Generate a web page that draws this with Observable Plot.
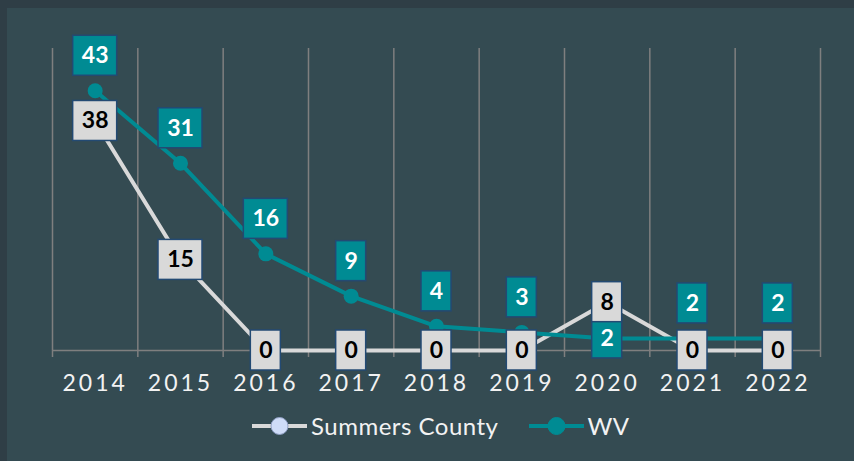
<!DOCTYPE html>
<html><head><meta charset="utf-8">
<script src="https://cdn.jsdelivr.net/npm/d3@7"></script>
<script src="https://cdn.jsdelivr.net/npm/@observablehq/plot@0.6"></script>
<style>
html,body{margin:0;padding:0;background:#2f3e46;width:854px;height:461px;overflow:hidden;}
#panel{position:absolute;left:7px;top:8px;width:847px;height:453px;background:#344b52;font-family:Lato,"Open Sans",sans-serif;}
#chart{position:absolute;left:0;top:0;}
#legend{position:absolute;left:245px;top:403px;display:flex;align-items:center;color:#f2f2f2;font-size:24px;letter-spacing:0.5px;font-family:Lato,"Open Sans",sans-serif;}
.item{display:flex;align-items:center;margin-right:30px;}
.item svg{margin-right:4px;}
</style></head>
<body>
<div id="panel"><div id="chart"></div><div id="legend"></div></div>
<script>
const years = [2014, 2015, 2016, 2017, 2018, 2019, 2020, 2021, 2022];
const summersValues = [38, 15, 0, 0, 0, 0, 8, 0, 0];
const wvValues = [43, 31, 16, 9, 4, 3, 2, 2, 2];
const seriesNames = ["Summers County", "WV"];

const W = 847, H = 400, mL = 45, mR = 34, mT = 40, mB = 58;
const yMax = 50;
const xDomain = [years[0] - 0.5, years[years.length - 1] + 0.5];
const xPerPx = (xDomain[1] - xDomain[0]) / (W - mL - mR);
const yPerPx = yMax / (H - mT - mB);

const teal = "#008b93", light = "#d9d9d9", border = "#234a73";
const summers = years.map((year, i) => ({year, value: summersValues[i], series: seriesNames[0]}));
const wv = years.map((year, i) => ({year, value: wvValues[i], series: seriesNames[1]}));
const wvCentered = [2020];
const gridXs = years.map(y => y - 0.5).concat([years[years.length - 1] + 0.5]);

const boxW = d => (String(d.value).length > 1 ? 44 : 30) * xPerPx / 2;
const boxH = 40 * yPerPx / 2;
const sumCy = d => d.value;
const wvCy = d => wvCentered.includes(d.year) ? d.value : d.value + 35 * yPerPx;

const plot = Plot.plot({
  width: W, height: H,
  marginLeft: mL, marginRight: mR, marginTop: mT, marginBottom: mB,
  x: {domain: xDomain, axis: null},
  y: {domain: [0, yMax], axis: null},
  style: {background: "transparent", fontFamily: "Lato, 'Open Sans', sans-serif"},
  marks: [
    Plot.ruleX(gridXs, {y1: 0, y2: yMax, stroke: "#7f7f7f", strokeWidth: 1.5}),
    Plot.ruleX(gridXs, {y1: 0, y2: -7 * yPerPx, stroke: "#7f7f7f", strokeWidth: 1.5}),
    Plot.ruleY([0], {stroke: "#7f7f7f", strokeWidth: 1.5}),
    Plot.text(years, {x: d => d, y: 0, dy: 33, dx: 0, text: d => String(d), fill: "#f2f2f2", fontSize: 23}),
    Plot.line(summers, {x: "year", y: "value", stroke: light, strokeWidth: 4}),
    Plot.dot(summers, {x: "year", y: "value", r: 7.5, fill: "#cfdcf5"}),
    Plot.line(wv, {x: "year", y: "value", stroke: teal, strokeWidth: 4}),
    Plot.dot(wv, {x: "year", y: "value", r: 7.5, fill: teal}),
    Plot.rect(wv, {x1: d => d.year - boxW(d), x2: d => d.year + boxW(d), y1: d => wvCy(d) - boxH, y2: d => wvCy(d) + boxH, fill: teal, stroke: border, strokeWidth: 1.5}),
    Plot.text(wv, {x: "year", y: wvCy, text: d => String(d.value), fill: "white", fontSize: 23, fontWeight: "bold"}),
    Plot.rect(summers, {x1: d => d.year - boxW(d), x2: d => d.year + boxW(d), y1: d => sumCy(d) - boxH, y2: d => sumCy(d) + boxH, fill: light, stroke: border, strokeWidth: 1.5}),
    Plot.text(summers, {x: "year", y: sumCy, text: d => String(d.value), fill: "black", fontSize: 23, fontWeight: "bold"})
  ]
});
const yearLabels = years.map(String);
d3.select(plot).selectAll("text").filter(function() { return yearLabels.includes(this.textContent); }).attr("letter-spacing", 3);
document.getElementById("chart").appendChild(plot);

const legend = document.getElementById("legend");
const markers = [{line: light, dot: "#cfdcf8", dotStroke: "#8f9fc4"}, {line: teal, dot: teal, dotStroke: teal}];
seriesNames.forEach((name, i) => {
  const m = markers[i];
  const item = document.createElement("div");
  item.className = "item";
  item.innerHTML = `<svg width="55" height="20"><line x1="0" x2="55" y1="10" y2="10" stroke="${m.line}" stroke-width="4"/><circle cx="27.5" cy="10" r="8.5" fill="${m.dot}" stroke="${m.dotStroke}" stroke-width="1"/></svg><span>${name}</span>`;
  legend.appendChild(item);
});
</script>
</body></html>
